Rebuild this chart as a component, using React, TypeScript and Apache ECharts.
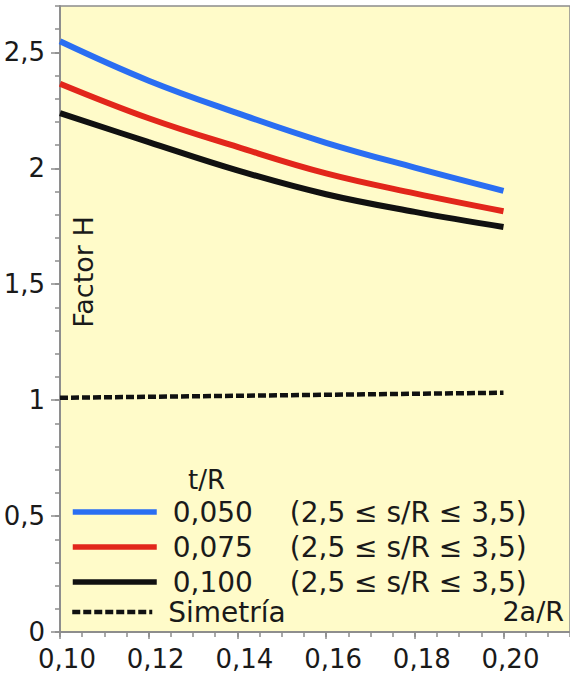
import React, { useEffect, useRef } from "react";
import * as echarts from "echarts";

const xValues = [0.1, 0.12, 0.14, 0.16, 0.18, 0.2];
const tR050 = [2.548, 2.378, 2.238, 2.11, 2.003, 1.903];
const tR075 = [2.365, 2.216, 2.092, 1.978, 1.892, 1.815];
const tR100 = [2.238, 2.113, 1.991, 1.888, 1.812, 1.747];
const symX = [0.1, 0.15, 0.2];
const symY = [1.01, 1.021, 1.032];
const seriesNames = ["0,050", "0,075", "0,100"];
const rangeText = "(2,5 ≤ s/R ≤ 3,5)";
const symName = "Simetría";
const yLabels = ["0", "0,5", "1", "1,5", "2", "2,5"];
const xLabels = ["0,10", "0,12", "0,14", "0,16", "0,18", "0,20"];

const FONT = "DejaVu Sans";
const AXIS_COLOR = "#8c8c8c";
const TEXT_COLOR = "#1a1a1a";

export default function App() {
  const ref = useRef<HTMLDivElement>(null);
  useEffect(() => {
    if (!ref.current) return;
    const chart = echarts.init(ref.current, undefined, { renderer: "svg" });
    const pair = (xs: number[], ys: number[]) => xs.map((x, i) => [x, ys[i]]);
    const baseX = {
      type: "value" as const,
      min: 0.1,
      max: 0.215,
      gridIndex: 0,
      position: "bottom" as const,
      splitLine: { show: false },
      axisLine: { show: true, lineStyle: { color: AXIS_COLOR, width: 1.5 } },
    };
    const baseY = {
      type: "value" as const,
      min: 0,
      max: 2.7,
      gridIndex: 0,
      position: "left" as const,
      splitLine: { show: false },
      axisLine: { show: true, lineStyle: { color: AXIS_COLOR, width: 1.5 } },
    };
    const lineSeries = (name: string, ys: number[], color: string) => ({
      type: "line" as const,
      name,
      data: pair(xValues, ys),
      smooth: 0.4,
      symbol: "none",
      xAxisIndex: 0,
      yAxisIndex: 0,
      lineStyle: { color, width: 6, cap: "butt" as const },
      itemStyle: { color },
      z: 3,
    });
    const legendText = {
      fontFamily: FONT,
      fontSize: 28,
      lineHeight: 30,
      color: TEXT_COLOR,
      rich: {
        a: { fontFamily: FONT, fontSize: 28, lineHeight: 30, color: TEXT_COLOR, width: 117, padding: [0, 0, 0, 11] },
        b: { fontFamily: FONT, fontSize: 28, lineHeight: 30, color: TEXT_COLOR },
        c: { fontFamily: FONT, fontSize: 28, lineHeight: 30, color: TEXT_COLOR, padding: [0, 0, 0, 11] },
      },
    };
    chart.setOption({
      animation: false,
      backgroundColor: "#ffffff",
      grid: {
        left: 60,
        top: 6,
        right: -3,
        bottom: 45,
        show: true,
        backgroundColor: "#fffbc9",
        borderColor: AXIS_COLOR,
        borderWidth: 1.5,
      },
      xAxis: [
        {
          ...baseX,
          interval: 0.005,
          axisTick: { show: true, length: 5, lineStyle: { color: AXIS_COLOR, width: 1.5 } },
          axisLabel: { show: false },
        },
        {
          ...baseX,
          interval: 0.02,
          axisTick: { show: true, length: 7, lineStyle: { color: AXIS_COLOR, width: 1.5 } },
          axisLabel: {
            show: true,
            showMaxLabel: false,
            margin: 14,
            fontFamily: FONT,
            fontSize: 26,
            color: TEXT_COLOR,
            padding: [0, 0, 0, 14],
            formatter: (v: number) => {
              const idx = Math.round((v - 0.1) / 0.02);
              return Math.abs(v - (0.1 + idx * 0.02)) < 1e-6 ? xLabels[idx] ?? "" : "";
            },
          },
        },
      ],
      yAxis: [
        {
          ...baseY,
          interval: 0.1,
          axisTick: { show: true, length: 5, lineStyle: { color: AXIS_COLOR, width: 1.5 } },
          axisLabel: { show: false },
        },
        {
          ...baseY,
          interval: 0.5,
          axisTick: { show: true, length: 9, lineStyle: { color: AXIS_COLOR, width: 1.5 } },
          axisLabel: {
            show: true,
            showMaxLabel: false,
            margin: 15,
            fontFamily: FONT,
            fontSize: 26,
            color: TEXT_COLOR,
            formatter: (v: number) => {
              const idx = Math.round(v / 0.5);
              return Math.abs(v - idx * 0.5) < 1e-6 ? yLabels[idx] ?? "" : "";
            },
          },
        },
      ],
      legend: [
        {
          data: seriesNames,
          orient: "vertical",
          left: 70,
          top: 497,
          itemWidth: 84,
          itemHeight: 14,
          itemGap: 5,
          padding: 0,
          selectedMode: false,
          itemStyle: { opacity: 0 },
          lineStyle: { width: 5.5 },
          textStyle: legendText,
          formatter: (name: string) => `{a|${name}}{b|${rangeText}}`,
        },
        {
          data: [symName],
          orient: "vertical",
          left: 70,
          top: 597,
          itemWidth: 80,
          itemHeight: 14,
          padding: 0,
          selectedMode: false,
          itemStyle: { opacity: 0 },
          lineStyle: { width: 4.5 },
          textStyle: legendText,
          formatter: (name: string) => `{c|${name}}`,
        },
      ],
      graphic: [
        {
          type: "text",
          left: 188,
          top: 467,
          z: 10,
          style: { text: "t/R", font: `26px "${FONT}"`, fill: TEXT_COLOR },
        },
        {
          type: "text",
          x: 83,
          y: 272,
          rotation: Math.PI / 2,
          z: 10,
          style: {
            text: "Factor H",
            font: `27px "${FONT}"`,
            fill: TEXT_COLOR,
            align: "center",
            verticalAlign: "middle",
          },
        },
        {
          type: "text",
          x: 564,
          y: 611,
          z: 10,
          style: {
            text: "2a/R",
            font: `27px "${FONT}"`,
            fill: TEXT_COLOR,
            align: "right",
            verticalAlign: "middle",
          },
        },
      ],
      series: [
        lineSeries(seriesNames[0], tR050, "#2a6ef2"),
        lineSeries(seriesNames[1], tR075, "#e2261b"),
        lineSeries(seriesNames[2], tR100, "#111111"),
        {
          type: "line",
          name: symName,
          data: pair(symX, symY),
          symbol: "none",
          xAxisIndex: 0,
          yAxisIndex: 0,
          lineStyle: { color: "#111111", width: 4.5, type: [8, 3], cap: "butt" },
          itemStyle: { color: "#111111" },
          z: 3,
        },
      ],
    });
    return () => chart.dispose();
  }, []);
  return (
    <div
      ref={ref}
      style={{ position: "fixed", left: 0, top: 0, width: 570, height: 677 }}
    />
  );
}
